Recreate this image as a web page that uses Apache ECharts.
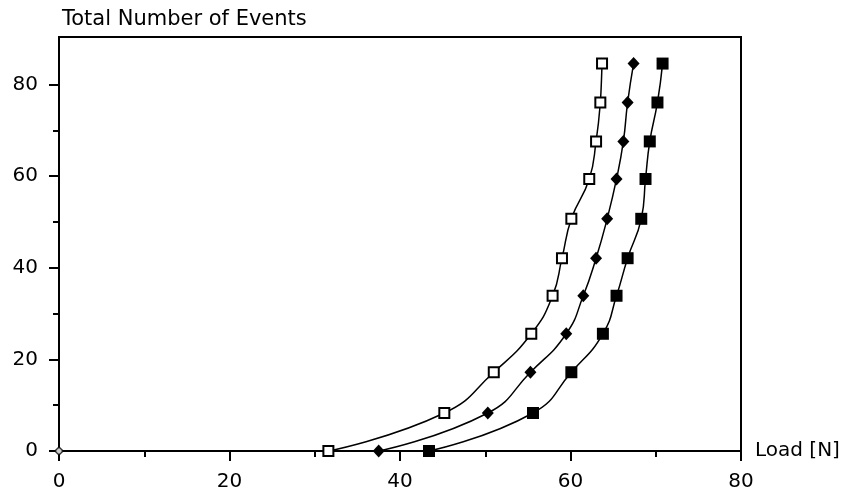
<!DOCTYPE html>
<html>
<head>
<meta charset="utf-8">
<script src="https://cdn.jsdelivr.net/npm/echarts@6/dist/echarts.min.js"></script>
<style>
html,body{margin:0;padding:0;background:#fff;}
#chart{width:843px;height:495px;}
</style>
</head>
<body>
<div id="chart"></div>
<script>
// Data
const events = [0, 8.3, 17.2, 25.6, 33.9, 42.1, 50.7, 59.4, 67.6, 76.1, 84.6];
const loadOpenSquare = [31.6, 45.2, 51.0, 55.4, 57.9, 59.0, 60.1, 62.2, 63.0, 63.5, 63.7];
const loadDiamond = [37.5, 50.3, 55.3, 59.5, 61.5, 63.0, 64.3, 65.4, 66.2, 66.7, 67.4];
const loadFilledSquare = [43.4, 55.6, 60.1, 63.8, 65.4, 66.7, 68.3, 68.8, 69.3, 70.2, 70.8];
const originPoint = [[0, 0]];
const yTicks = [0, 20, 40, 60, 80];
const yMinorTicks = [10, 30, 50, 70];
const titleText = 'Total Number of Events';
const xName = 'Load [N]';

const pair = (xs, ys) => xs.map((x, i) => [x, ys[i]]);
const FONT = 'DejaVu Sans';

const chart = echarts.init(document.getElementById('chart'), null, {renderer: 'canvas'});
const lineSeries = (name, xs, symbol, size, fill) => ({
  name, type: 'line', data: pair(xs, events),
  smooth: 0.5,
  symbol, symbolSize: size, showAllSymbol: true,
  lineStyle: {color: '#000', width: 1.5},
  itemStyle: {color: fill, borderColor: '#000', borderWidth: fill === '#fff' ? 2 : 0},
  z: 3, animation: false
});

chart.setOption({
  animation: false,
  backgroundColor: '#fff',
  title: {
    text: titleText, left: 57, top: 4,
    textStyle: {fontFamily: FONT, fontSize: 21, fontWeight: 'normal', color: '#000'}
  },
  grid: {
    left: 59, right: 102, top: 37, bottom: 44, containLabel: false, outerBoundsMode: 'none',
    show: true, borderColor: '#000', borderWidth: 2, backgroundColor: 'transparent'
  },
  xAxis: {
    type: 'value', min: 0, max: 80, interval: 20,
    name: xName, nameLocation: 'end', nameGap: 14,
    nameTextStyle: {fontFamily: FONT, fontSize: 20, color: '#000', verticalAlign: 'middle', padding: [0,0,16,0]},
    axisLine: {show: true, onZero: false, lineStyle: {color: '#000', width: 2}},
    axisTick: {show: true, inside: false, length: 10, lineStyle: {color: '#000', width: 2}},
    minorTick: {show: true, splitNumber: 2, length: 6, lineStyle: {color: '#000', width: 2}},
    axisLabel: {fontFamily: FONT, fontSize: 20, color: '#000', margin: 21},
    splitLine: {show: false}
  },
  yAxis: [{
    type: 'value', min: 0, max: 90.4, interval: 20,
    axisLine: {show: true, onZero: false, lineStyle: {color: '#000', width: 2}},
    axisTick: {show: true, inside: false, length: 10, customValues: yTicks, lineStyle: {color: '#000', width: 2}},
    axisLabel: {fontFamily: FONT, fontSize: 20, color: '#000', margin: 21, customValues: yTicks},
    splitLine: {show: false}
  }, {
    type: 'value', min: 0, max: 90.4, position: 'left', offset: 0,
    axisLine: {show: false},
    axisTick: {show: true, inside: false, length: 6, customValues: yMinorTicks, lineStyle: {color: '#000', width: 2}},
    axisLabel: {show: false},
    splitLine: {show: false}
  }],
  series: [
    lineSeries('open', loadOpenSquare, 'rect', 10, '#fff'),
    lineSeries('diamond', loadDiamond, 'diamond', [12, 13], '#000'),
    lineSeries('filled', loadFilledSquare, 'rect', 12, '#000'),
    {
      type: 'scatter', data: originPoint, symbol: 'diamond', symbolSize: 8,
      itemStyle: {color: '#fff', borderColor: '#000', borderWidth: 1.5}, z: 4
    }
  ]
});
</script>
</body>
</html>
